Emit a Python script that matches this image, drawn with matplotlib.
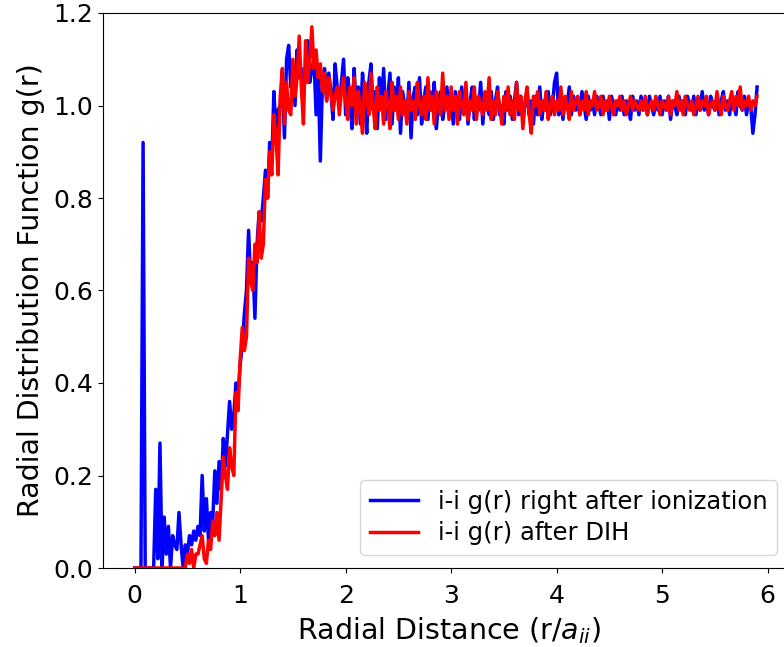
import numpy as np
import matplotlib
matplotlib.use("Agg")
import matplotlib.pyplot as plt

# bin width of the g(r) histogram
dr = 0.02

# i-i g(r) right after ionization
g_ion = [
    0, 0, 0, 0, 0.92, 0, 0, 0, 0, 0.0,
    0.17, 0.02, 0.27, 0.0, 0.11, 0.03, 0.09, 0.0, 0.07, 0.05,
    0.04, 0.12, 0.05, 0.0, 0.05, 0.03, 0.07, 0.05, 0.08, 0.06,
    0.09, 0.07, 0.20, 0.08, 0.15, 0.06, 0.12, 0.10, 0.21, 0.14,
    0.23, 0.17, 0.28, 0.22, 0.29, 0.36, 0.30, 0.33, 0.40, 0.37,
    0.44, 0.48, 0.55, 0.60, 0.73, 0.62, 0.66, 0.54, 0.70, 0.77,
    0.75, 0.80, 0.86, 0.80, 0.92, 0.88, 1.03, 0.94, 0.99, 1.00,
    1.05, 0.93, 1.10, 1.13, 1.04, 1.09, 1.00, 1.12, 1.06, 1.08,
    1.02, 1.08, 1.14, 1.05, 1.08, 1.10, 0.98, 1.07, 0.88, 1.05,
    1.08, 1.01, 1.07, 1.03, 0.97, 1.09, 1.04, 1.00, 1.05, 1.10,
    0.98, 1.06, 1.02, 0.95, 1.08, 1.00, 1.04, 0.96, 1.07, 1.01,
    0.94, 1.05, 1.09, 0.99, 1.03, 0.95, 1.06, 1.00, 1.08, 0.97,
    1.02, 1.07, 0.96, 1.04, 0.99, 1.06, 0.94, 1.03, 1.00, 0.97,
    1.05, 0.93, 1.02, 1.04, 0.98, 1.06, 0.96, 1.01, 1.04, 0.97,
    1.03, 0.99, 1.05, 0.95, 1.01, 1.03, 0.97, 1.00, 1.04, 0.98,
    1.02, 0.96, 1.03, 1.00, 0.97, 1.04, 0.99, 1.02, 0.96, 1.01,
    1.04, 0.97, 1.01, 0.99, 1.05, 0.96, 1.02, 1.00, 0.98, 1.03,
    0.97, 1.01, 1.04, 0.98, 1.00, 0.96, 1.03, 0.99, 1.02, 0.97,
    1.01, 1.05, 0.98, 1.02, 0.97, 1.00, 1.03, 0.98, 1.01, 0.96,
    1.02, 0.98, 1.04, 0.97, 1.01, 0.99, 1.03, 0.98, 1.00, 1.05,
    1.07, 0.98, 1.02, 0.97, 1.01, 1.00, 1.04, 0.98, 1.02, 0.99,
    1.01, 0.98, 1.03, 1.00, 0.97, 1.02, 0.99, 1.01, 0.98, 1.02,
    1.00, 0.98, 1.02, 0.99, 1.01, 0.97, 1.02, 1.00, 0.98, 1.01,
    0.99, 1.02, 0.98, 1.01, 1.00, 0.97, 1.02, 0.99, 1.01, 0.98,
    1.02, 0.99, 1.01, 0.98, 1.02, 1.00, 0.98, 1.01, 0.99, 1.02,
    0.98, 1.01, 0.99, 1.02, 0.97, 1.01, 1.00, 0.98, 1.02, 0.99,
    1.01, 0.98, 1.02, 1.00, 0.99, 1.02, 0.98, 1.01, 0.99, 1.03,
    0.99, 1.01, 0.98, 1.02, 1.00, 0.99, 1.02, 0.98, 1.01, 1.03,
    0.99, 1.01, 0.98, 1.02, 1.00, 0.98, 1.03, 1.00, 0.99, 1.02,
    0.98, 1.01, 1.00, 0.94, 0.98, 1.04,
]

# i-i g(r) after disorder-induced heating
g_dih = [
    0, 0, 0, 0, 0, 0, 0, 0, 0, 0,
    0, 0, 0, 0, 0, 0, 0, 0, 0, 0,
    0, 0, 0, 0, 0.0, 0.03, 0.01, 0.04, 0.0, 0.03,
    0.03, 0.05, 0.07, 0.02, 0.01, 0.06, 0.04, 0.10, 0.07, 0.12,
    0.06, 0.15, 0.24, 0.20, 0.17, 0.26, 0.22, 0.20, 0.38, 0.34,
    0.45, 0.52, 0.47, 0.50, 0.67, 0.62, 0.60, 0.70, 0.66, 0.77,
    0.67, 0.70, 0.84, 0.80, 0.90, 0.85, 0.98, 0.93, 0.85, 1.02,
    1.08, 0.96, 1.05, 0.99, 0.98, 1.10, 1.02, 1.06, 1.15, 1.04,
    0.96, 1.14, 1.05, 1.10, 1.17, 1.08, 1.12, 1.06, 1.09, 1.03,
    1.07, 1.01, 1.06, 1.03, 0.99, 1.02, 1.04, 0.98, 1.03, 1.06,
    1.01, 0.97, 1.04, 1.00, 1.06, 0.96, 1.03, 0.99, 0.94, 1.05,
    1.02, 0.98, 1.07, 1.00, 0.95, 1.04, 0.99, 1.02, 0.96, 1.03,
    1.00, 0.95, 1.05, 0.99, 1.02, 0.97, 1.04, 0.98, 1.01, 0.96,
    1.03, 0.99, 1.01, 0.97, 1.05, 1.00, 0.98, 1.02, 0.97, 1.06,
    0.99, 1.02, 0.96, 1.03, 1.00, 0.98, 1.07, 0.99, 1.02, 0.97,
    1.04, 0.99, 1.02, 0.96, 1.03, 1.00, 0.98, 1.05, 0.97, 1.01,
    0.99, 1.04, 0.97, 1.02, 1.00, 0.98, 1.03, 0.99, 1.06, 0.97,
    1.01, 0.98, 1.03, 1.00, 0.96, 1.02, 0.99, 1.04, 0.98, 1.01,
    0.97, 1.05, 0.99, 1.02, 0.95, 1.01, 1.04, 0.98, 0.94, 1.02,
    1.00, 1.03, 0.98, 1.01, 0.99, 1.03, 0.97, 1.00, 1.02, 0.98,
    1.01, 0.99, 1.04, 0.98, 1.02, 1.00, 0.97, 1.03, 0.99, 1.01,
    1.02, 0.98, 1.01, 0.99, 1.03, 0.98, 1.01, 1.00, 1.03, 0.99,
    1.00, 1.02, 0.98, 1.01, 0.99, 1.02, 1.00, 0.98, 1.01, 1.00,
    1.02, 0.99, 1.01, 0.98, 1.00, 1.02, 0.99, 1.01, 1.00, 0.99,
    1.01, 0.99, 1.02, 0.98, 1.00, 1.01, 0.99, 1.02, 1.00, 0.98,
    1.01, 1.00, 0.99, 1.02, 0.98, 1.01, 1.00, 1.03, 0.99, 1.01,
    0.98, 1.02, 1.00, 0.99, 1.01, 0.98, 1.00, 1.02, 0.99, 1.01,
    1.00, 1.02, 0.98, 1.00, 1.01, 0.99, 1.03, 1.00, 0.98, 1.02,
    1.00, 0.99, 1.01, 1.03, 0.99, 1.02, 1.00, 1.04, 0.99, 1.01,
    1.00, 1.02, 0.99, 1.01, 1.00, 1.02,
]

labels = ["i-i g(r) right after ionization", "i-i g(r) after DIH"]

r_ion = np.arange(len(g_ion)) * dr
r_dih = np.arange(len(g_dih)) * dr

fig = plt.figure(figsize=(7.84, 6.47), dpi=100)
# axes runs a bit past the right edge of the canvas, like the original crop
ax = fig.add_axes([103 / 784, 1 - 568 / 647, 691 / 784, 555 / 647])

ax.plot(r_ion, g_ion, color="blue", lw=2.5, label=labels[0])
ax.plot(r_dih, g_dih, color="red", lw=2.5, label=labels[1])

ax.set_xlim(-0.3, 6.25)
ax.set_ylim(0, 1.2)
ax.set_xticks([0, 1, 2, 3, 4, 5, 6])
ax.tick_params(labelsize=18)
ax.tick_params(axis="x", pad=8)
ax.set_xlabel(r"Radial Distance (r/$a_{ii}$)", fontsize=20.5, labelpad=5)
ax.set_ylabel("Radial Distribution Function g(r)", fontsize=20.5, labelpad=6)
ax.legend(loc="lower right", fontsize=17.5, labelspacing=0.3,
          bbox_to_anchor=(777 / 784, 1 - 555 / 647), bbox_transform=fig.transFigure,
          borderaxespad=0)

fig.savefig("out.png", dpi=100)
